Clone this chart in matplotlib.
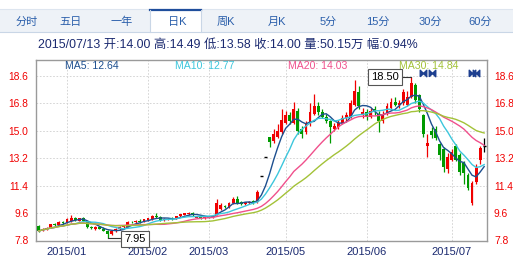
import matplotlib
matplotlib.use("Agg")
import matplotlib.pyplot as plt
from matplotlib.patches import Rectangle
import numpy as np
import pandas as pd

plt.rcParams['font.family'] = ['Liberation Sans', 'Noto Sans CJK SC', 'DejaVu Sans']

# ---------------- data ----------------
tabs = ["分时", "五日", "一年", "日K", "周K", "月K", "5分", "15分", "30分", "60分"]
info_line = "2015/07/13 开:14.00 高:14.49 低:13.58 收:14.00 量:50.15万 幅:0.94%"
ma_periods = [5, 10, 20, 30]
ma_labels = ["MA5: 12.64", "MA10: 12.77", "MA20: 14.03", "MA30: 14.84"]

opens = [8.78, 8.42, 8.58, 8.62, 8.86, 8.80, 9.00,
         8.96, 9.05, 9.28, 9.10, 9.25, 9.05, 8.66, 8.56, 8.70, 8.58, 8.45, 8.22, 8.40, 8.58,
         8.68, 8.70, 9.02, 8.98, 9.10, 9.00,
         9.12, 9.20, 9.40, 9.36, 9.15, 9.20, 9.24, 9.20, 9.38, 9.50, 9.56, 9.62, 9.30, 9.36, 9.28,
         9.32, 9.30, 9.50, 9.85, 10.05, 9.95, 10.25, 10.52, 10.30, 10.20, 10.28, 10.38, 10.30,
         12.05, 13.25, 14.58, 14.30, 14.60, 14.90,
         15.50, 16.00, 15.50, 16.30, 15.10, 14.90, 15.40, 16.10, 16.60, 16.20, 15.90, 15.60,
         15.10, 15.20, 15.50, 15.80, 15.90, 16.70, 17.50, 16.10,
         16.20, 15.90, 16.40, 16.10, 15.60, 16.10, 16.50, 16.90, 16.70, 16.80, 16.70, 17.20,
         18.00, 17.30, 16.00, 14.00, 14.95, 15.10, 14.10, 13.80, 12.50,
         13.10, 14.00, 13.40, 12.90, 12.10, 10.26, 11.60, 13.10, 14.00]
highs = [8.82, 8.62, 8.70, 8.90, 8.95, 9.05, 9.08,
         9.30, 9.45, 9.35, 9.28, 9.32, 9.08, 8.78, 8.75, 8.74, 8.70, 8.50, 8.45, 8.62, 8.72,
         8.78, 9.08, 9.10, 9.12, 9.22, 9.22,
         9.30, 9.50, 9.62, 9.42, 9.28, 9.30, 9.32, 9.42, 9.56, 9.62, 9.68, 9.66, 9.40, 9.40, 9.36,
         9.40, 9.42, 10.50, 10.25, 10.15, 10.35, 10.62, 10.72, 10.40, 10.35, 10.40, 10.45, 11.10,
         12.05, 13.25, 14.58, 15.10, 15.40, 16.40,
         16.30, 16.20, 16.90, 16.50, 15.30, 15.60, 16.80, 17.40, 16.90, 16.40, 16.10, 15.70,
         15.50, 15.70, 16.00, 16.20, 17.00, 18.30, 17.90, 16.50,
         16.40, 16.50, 16.60, 16.30, 16.30, 16.80, 17.10, 17.20, 17.00, 17.70, 17.60, 18.50,
         18.10, 17.40, 16.10, 14.80, 15.20, 15.30, 14.20, 13.90, 13.50,
         13.80, 14.10, 13.50, 13.00, 12.20, 11.70, 12.80, 14.00, 14.49]
lows = [8.38, 8.40, 8.52, 8.60, 8.76, 8.76, 8.90,
        8.92, 9.00, 9.10, 9.05, 9.08, 8.60, 8.55, 8.52, 8.55, 8.40, 7.95, 8.18, 8.36, 8.52,
        8.60, 8.66, 8.92, 8.90, 8.96, 8.98,
        9.05, 9.15, 9.30, 9.10, 9.08, 9.12, 9.15, 9.18, 9.34, 9.44, 9.48, 9.40, 9.26, 9.24, 9.22,
        9.25, 9.26, 9.48, 9.80, 9.90, 9.92, 10.20, 10.20, 10.15, 10.10, 10.20, 10.18, 10.28,
        12.05, 13.25, 13.90, 14.20, 14.50, 14.80,
        15.40, 15.40, 15.40, 14.80, 14.50, 14.80, 15.30, 16.00, 16.00, 15.80, 15.50, 14.20,
        15.00, 15.10, 15.40, 15.60, 15.80, 16.60, 16.40, 15.80,
        15.70, 15.80, 16.00, 14.90, 15.50, 16.00, 16.40, 16.60, 16.50, 16.70, 16.60, 17.10,
        16.80, 16.20, 14.60, 13.30, 14.50, 14.40, 13.10, 12.30, 12.20,
        13.00, 13.00, 12.10, 11.50, 11.10, 10.15, 11.50, 12.80, 13.58]
closes = [8.42, 8.58, 8.64, 8.86, 8.80, 9.00, 8.96,
          9.22, 9.30, 9.14, 9.25, 9.10, 8.66, 8.62, 8.70, 8.58, 8.45, 8.22, 8.40, 8.58, 8.68,
          8.72, 9.02, 8.98, 9.06, 9.00, 9.18,
          9.26, 9.40, 9.36, 9.15, 9.20, 9.22, 9.18, 9.38, 9.52, 9.58, 9.62, 9.44, 9.36, 9.28, 9.32,
          9.30, 9.38, 10.25, 10.10, 9.98, 10.28, 10.50, 10.25, 10.22, 10.30, 10.35, 10.25, 10.95,
          12.05, 13.25, 14.25, 14.80, 15.00, 15.70,
          16.00, 15.60, 16.40, 15.00, 14.80, 15.40, 16.20, 16.60, 16.20, 15.90, 15.60, 15.20,
          15.30, 15.50, 15.80, 16.00, 16.80, 17.60, 16.60, 16.20,
          15.90, 16.30, 16.20, 15.60, 16.10, 16.60, 16.90, 16.70, 16.80, 17.50, 17.20, 18.10,
          17.00, 16.40, 14.80, 14.20, 14.70, 14.50, 13.40, 12.60, 13.30,
          13.60, 13.10, 12.30, 12.20, 11.21, 11.57, 12.55, 13.87, 14.00]

month_labels = ["2015/01", "2015/02", "2015/03", "2015/05", "2015/06", "2015/07"]
month_start_idx = [7, 27, 42, 61, 81, 102]
y_ticks = [7.8, 9.6, 11.4, 13.2, 15.0, 16.8, 18.6]
high_label = "18.50"
low_label = "7.95"
marker_idx = [95, 97, 107, 108]

# ---------------- figure ----------------
W, H = 513, 256
fig = plt.figure(figsize=(W / 100, H / 100), dpi=100)
fig.patch.set_facecolor("white")

def fx(px):
    return px / W

def fy(py):
    return 1 - py / H

# tab bar
bar = Rectangle((0, fy(32)), 1, fy(9) - fy(32), transform=fig.transFigure,
                facecolor="#eef2f7", edgecolor="none", zorder=0)
fig.patches.append(bar)
fig.add_artist(plt.Line2D([0, 1], [fy(32), fy(32)], transform=fig.transFigure,
                          color="#c9d6e6", lw=0.8))
fig.add_artist(plt.Line2D([0, 1], [fy(9), fy(9)], transform=fig.transFigure,
                          color="#dde5ef", lw=0.8))
sel = Rectangle((fx(150), fy(33)), fx(201) - fx(150), fy(9) - fy(33), transform=fig.transFigure,
                facecolor="white", edgecolor="none", zorder=1)
fig.patches.append(sel)
fig.add_artist(plt.Line2D([fx(150), fx(201)], [fy(10), fy(10)], transform=fig.transFigure,
                          color="#1f4e9c", lw=1.6))
fig.add_artist(plt.Line2D([fx(150), fx(150)], [fy(10), fy(32)], transform=fig.transFigure,
                          color="#c9d6e6", lw=0.8))
fig.add_artist(plt.Line2D([fx(201), fx(201)], [fy(10), fy(32)], transform=fig.transFigure,
                          color="#c9d6e6", lw=0.8))
tab_x = [27, 71, 122, 177, 226, 277, 328, 378, 430, 480]
for t, x in zip(tabs, tab_x):
    fig.text(fx(x), fy(21.5), t, ha="center", va="center", fontsize=8, color="#2b5fab")

fig.text(fx(38), fy(45), info_line, ha="left", va="center", fontsize=8.9, color="#1b2a70")

# axes
ax = fig.add_axes([fx(35.5), fy(240.5), fx(487) - fx(35.5), fy(60) - fy(240.5)])
n = len(closes)
x = np.arange(n)
o = np.array(opens); h = np.array(highs); l = np.array(lows); c = np.array(closes)

red, green = "#f00000", "#009a00"
cols = np.where(c > o, red, np.where(c < o, green, "#000000"))
ax.vlines(x, l, h, colors=cols, linewidth=0.9, zorder=3)
bw = 0.72
body = np.abs(c - o)
ax.bar(x, np.where(body == 0, 0.0001, body), bottom=np.minimum(o, c), width=bw,
       color=cols, linewidth=0, zorder=4)
doji = body == 0
ax.hlines(c[doji], x[doji] - bw / 2, x[doji] + bw / 2, colors="#000000", linewidth=1.0, zorder=4)

ma_colors = ["#1d4f8f", "#3cc6dc", "#f0508c", "#a3c238"]
s = pd.Series(closes)
for p, col in zip(ma_periods, ma_colors):
    ma = s.rolling(p, min_periods=1).mean()
    ax.plot(x, ma, color=col, linewidth=1.0, zorder=5)

ax.set_xlim(-0.78, 110.7)
ax.set_ylim(7.8, 19.62)
ax.set_yticks(y_ticks)
ax.set_yticklabels(["%.1f" % v for v in y_ticks])
ax.set_xticks(month_start_idx)
ax.set_xticklabels(month_labels)
ax.tick_params(axis="y", left=False, right=False, labelleft=True, labelright=True,
               labelsize=7.4, labelcolor="#f00000", pad=1.5)
ax.tick_params(axis="x", bottom=False, labelsize=8, labelcolor="#1b2a70", pad=1)
ax.grid(True, color="#cfcfcf", linestyle=(0, (2, 2)), linewidth=0.6)
ax.set_axisbelow(True)
for sp in ax.spines.values():
    sp.set_color("#9a9a9a")
    sp.set_linewidth(1.0)

# MA legend
ma_label_x = [65, 175, 288, 399]
for lab, col, px in zip(ma_labels, ma_colors, ma_label_x):
    ax.text((px - 35.5) / (487 - 35.5), (240.5 - 66) / 180.5, lab, transform=ax.transAxes,
            ha="left", va="center", fontsize=7.6, color=col, zorder=6)

# event markers
bowtie = [(-1, -1), (-1, 1), (0, 0), (1, 1), (1, -1), (0, 0), (-1, -1)]
ax.scatter(marker_idx, [18.76] * len(marker_idx), marker=bowtie, s=22, color="#1d3f8f",
           zorder=6, clip_on=False)

# high / low annotations
hi_i = int(np.argmax(h)); lo_i = int(np.argmin(l))
ax.plot([hi_i, 88.3], [h[hi_i], h[hi_i]], color="#333333", lw=0.8, zorder=6)
ax.text(85.5, h[hi_i], high_label, ha="center", va="center", fontsize=8, color="black",
        bbox=dict(boxstyle="square,pad=0.3", fc="white", ec="#555555", lw=0.8), zorder=7)
ax.plot([lo_i, 21], [l[lo_i], l[lo_i]], color="#333333", lw=0.8, zorder=6, clip_on=False)
ax.text(23.9, l[lo_i] - 0.05, low_label, ha="center", va="center", fontsize=8, color="black",
        bbox=dict(boxstyle="square,pad=0.3", fc="white", ec="#555555", lw=0.8), zorder=7,
        clip_on=False)

fig.savefig("out.png", dpi=100)
